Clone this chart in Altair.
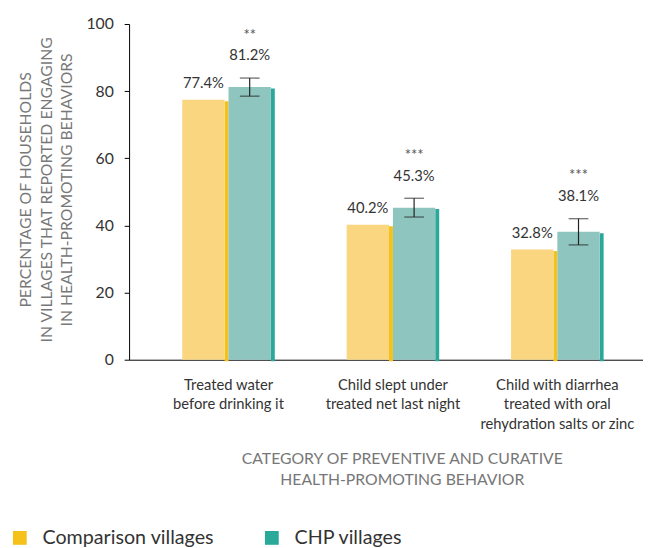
import altair as alt
import pandas as pd

categories = [
    "Treated water\nbefore drinking it",
    "Child slept under\ntreated net last night",
    "Child with diarrhea\ntreated with oral\nrehydration salts or zinc",
]
groups = ["Comparison villages", "CHP villages"]
comparison = [77.4, 40.2, 32.8]
chp = [81.2, 45.3, 38.1]
chp_low = [78.5, 42.5, 34.2]
chp_high = [83.9, 48.1, 42.0]
stars = ["**", "***", "***"]

face_colors = ["#F9D67F", "#8EC5BF"]
side_colors = ["#F4C21B", "#2AA89A"]

rows = []
for i, c in enumerate(categories):
    rows.append(dict(category=c, group=groups[0], value=comparison[i],
                     label=f"{comparison[i]:.1f}%", lo=None, hi=None, stars=""))
    rows.append(dict(category=c, group=groups[1], value=chp[i],
                     label=f"{chp[i]:.1f}%", lo=chp_low[i], hi=chp_high[i], stars=stars[i]))
df = pd.DataFrame(rows)

x_enc = alt.X(
    "category:N", sort=categories,
    scale=alt.Scale(paddingInner=0, paddingOuter=0.0629, align=0.833),
    axis=alt.Axis(
        title=["CATEGORY OF PREVENTIVE AND CURATIVE", "HEALTH-PROMOTING BEHAVIOR"],
        labelExpr="split(datum.label, '\\n')",
        labelAngle=0, ticks=False, tickSize=0, labelPadding=18,
        labelFontSize=15, labelColor="#333333", labelLineHeight=20,
        labelOverlap=False, labelBound=False, labelLimit=400,
        domainColor="#000000", domainWidth=1,
        titleX=277, titleY=100, titleAlign="center", titleBaseline="middle",
        titleFontSize=16, titleColor="#777777", titleFontWeight="normal",
        titleLineHeight=22,
    ),
)
y_scale = alt.Scale(domain=[0, 100], nice=False)
y_axis = alt.Axis(
    values=[0, 20, 40, 60, 80, 100], tickSize=5, labelPadding=11,
    labelFontSize=16, labelColor="#333333", domainColor="#000000",
    tickColor="#000000", grid=False,
    title=["PERCENTAGE OF HOUSEHOLDS", "IN VILLAGES THAT REPORTED ENGAGING",
           "IN HEALTH-PROMOTING BEHAVIORS"],
    titleFontSize=16, titleColor="#777777", titleFontWeight="normal",
    titleAngle=270, titleX=-105, titleY=168, titleAlign="center",
    titleBaseline="middle", titleLineHeight=21,
)

base = alt.Chart(df)
comp_only = base.transform_filter(alt.datum.group == "Comparison villages")
chp_only = base.transform_filter(alt.datum.group == "CHP villages")

legend = alt.Legend(
    orient="none", legendX=-121, legendY=512, direction="horizontal",
    title=None, symbolType="square", symbolSize=196, symbolStrokeWidth=0,
    labelFontSize=20, labelOffset=13, columnPadding=48, padding=0,
    labelLimit=400, labelColor="#333333")
color_enc = alt.Color("group:N", sort=groups,
                      scale=alt.Scale(domain=groups, range=side_colors),
                      legend=legend)
fill_enc = alt.Fill("group:N", scale=alt.Scale(domain=groups, range=face_colors),
                    legend=None)
y_val = alt.Y("value:Q", scale=y_scale, axis=y_axis)

# offsets within a category group (px from group centre)
comp_side = comp_only.mark_bar(width=4, xOffset=-2, yOffset=1.5).encode(
    x=x_enc, y=y_val, color=color_enc)
chp_side = chp_only.mark_bar(width=4, xOffset=45, yOffset=1.5).encode(
    x=x_enc, y=y_val, color=color_enc)
comp_face = comp_only.mark_bar(width=43, xOffset=-25.5).encode(
    x=x_enc, y=y_val, fill=fill_enc)
chp_face = chp_only.mark_bar(width=43, xOffset=21.5).encode(
    x=x_enc, y=y_val, fill=fill_enc)

err = chp_only.mark_rule(color="#222222", strokeWidth=1.2, xOffset=21.5).encode(
    x=x_enc, y=alt.Y("lo:Q", scale=y_scale), y2="hi:Q")
cap_lo = chp_only.mark_tick(color="#222222", size=20, thickness=1.2, xOffset=21.5).encode(
    x=x_enc, y=alt.Y("lo:Q", scale=y_scale))
cap_hi = chp_only.mark_tick(color="#222222", size=20, thickness=1.2, xOffset=21.5).encode(
    x=x_enc, y=alt.Y("hi:Q", scale=y_scale))

comp_lab = comp_only.mark_text(dy=-17, xOffset=-25.5, fontSize=15, color="#333333").encode(
    x=x_enc, y=alt.Y("value:Q", scale=y_scale), text="label:N")
chp_lab = chp_only.mark_text(dy=-23, xOffset=21.5, fontSize=15, color="#333333").encode(
    x=x_enc, y=alt.Y("hi:Q", scale=y_scale), text="label:N")
star_lab = chp_only.mark_text(dy=-44, xOffset=21.5, fontSize=15, color="#555555").encode(
    x=x_enc, y=alt.Y("hi:Q", scale=y_scale), text="stars:N")

chart = alt.layer(
    comp_side, chp_side, comp_face, chp_face, err, cap_lo, cap_hi,
    comp_lab, chp_lab, star_lab,
).properties(
    width=522, height=341,
    autosize=alt.AutoSizeParams(type="none"),
    padding={"left": 123, "top": 12, "right": 0, "bottom": 187},
).configure(font="Lato").configure_view(stroke=None)

chart.save("out.html", embed_options={"renderer": "svg", "actions": False})
